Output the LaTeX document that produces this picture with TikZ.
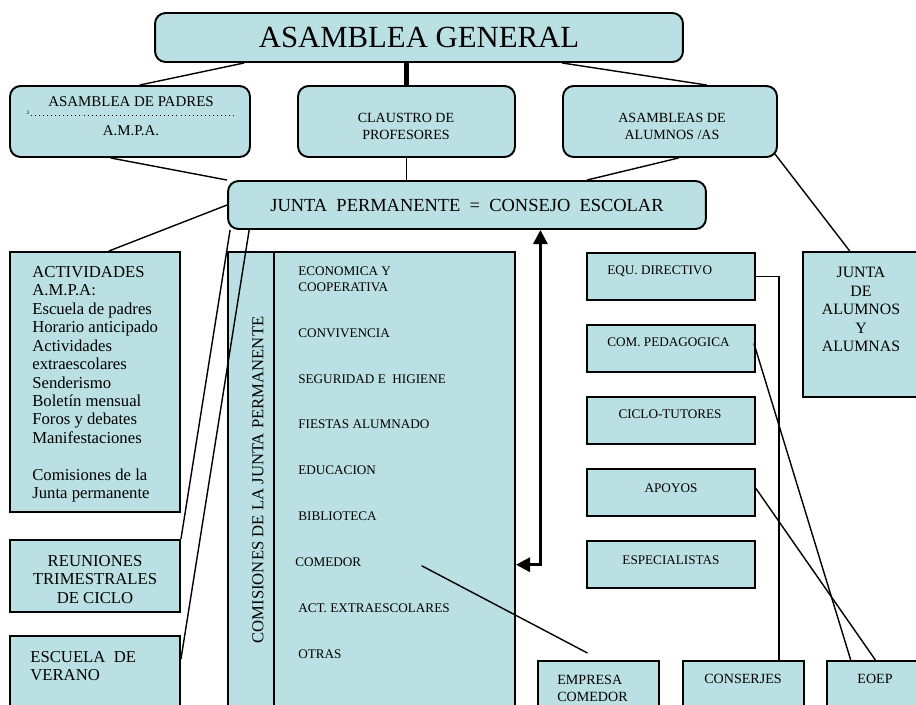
\documentclass[tikz,border=0pt]{standalone}
\usepackage{fontspec}
\setmainfont{Liberation Serif}
\usetikzlibrary{calc,arrows.meta}
\definecolor{boxblue}{RGB}{186,224,227}

\begin{document}
\begin{tikzpicture}[x=0.02cm, y=-0.02cm,
		rbox/.style={draw, line width=1.1pt, fill=boxblue, rounded corners=6pt, inner sep=0pt},
		sbox/.style={draw, line width=1.1pt, fill=boxblue, inner sep=0pt},
		txt/.style={inner sep=0pt, font=\fontsize{8}{9.6}\selectfont},
		bigtxt/.style={inner sep=0pt, font=\fontsize{9.5}{10.5}\selectfont},
		link/.style={line width=0.8pt},
		dblarrow/.style={line width=1.7pt, {Triangle[length=8pt,width=8pt]}-{Triangle[length=8pt,width=8pt]}}]
		\useasboundingbox (0,0) rectangle (916,704);
		\clip (0,0) rectangle (916,704);
		
		%top levels
		\node[rbox, minimum width=10.56cm, minimum height=0.98cm, font=\fontsize{17.5}{20}\selectfont] (gen) at (419,37.5) {ASAMBLEA GENERAL};
		\node[rbox, minimum width=4.8cm, minimum height=1.42cm] (padres) at (130,121.5) {};
		\node[rbox, minimum width=4.34cm, minimum height=1.42cm] (claustro) at (406.5,121.5) {};
		\node[rbox, minimum width=4.28cm, minimum height=1.42cm] (alumnos) at (670,121.5) {};
		\node[rbox, minimum width=9.56cm, minimum height=0.96cm, font=\fontsize{10.5}{12}\selectfont] (junta) at (467,205) {JUNTA~ PERMANENTE~ =~ CONSEJO~ ESCOLAR};
		
		\node[txt, anchor=base, font=\fontsize{8.5}{10}\selectfont] (padresT) at (131,106) {ASAMBLEA DE PADRES};
		\draw[dotted, line width=0.3pt] (31,115) -- (237,115);
		\node[inner sep=0pt, font=\fontsize{3}{3}\selectfont] (padresN) at (28,113) {3};
		\node[txt, anchor=base, font=\fontsize{8.5}{10}\selectfont] (ampaT) at (131,135) {A.M.P.A.};
		\node[txt, anchor=north, align=center] (claustroT) at (406,113) {CLAUSTRO DE\\PROFESORES};
		\node[txt, anchor=north, align=center] (alumnosT) at (672,113) {ASAMBLEAS DE\\ALUMNOS /AS};
		
		%left column
		\node[sbox, minimum width=3.4cm, minimum height=5.2cm] (activ) at (95,382) {};
		\node[bigtxt, anchor=north west, align=left] (activT) at (32,266) {ACTIVIDADES\\A.M.P.A:\\Escuela de padres\\Horario anticipado\\Actividades\\extraescolares\\Senderismo\\Boletín mensual\\Foros y debates\\Manifestaciones\\[10.5pt]Comisiones de la\\Junta permanente};
		\node[sbox, minimum width=3.4cm, minimum height=1.44cm] (reun) at (95,576) {};
		\node[bigtxt, anchor=north, align=center] (reunT) at (95,555) {REUNIONES\\TRIMESTRALES\\DE CICLO};
		\node[sbox, minimum width=3.4cm, minimum height=1.68cm] (verano) at (95,678) {};
		\node[bigtxt, anchor=north west, align=left] (veranoT) at (30,651) {ESCUELA~ DE\\VERANO};
		
		%comisiones
		\node[sbox, minimum width=5.74cm, minimum height=9.36cm] (comis) at (371.5,486) {};
		\draw[line width=1.1pt] ($(comis.north west)+(47,0)$) -- ($(comis.south west)+(47,0)$);
		\node[bigtxt, rotate=90] (comisT) at (258,480) {COMISIONES DE LA JUNTA PERMANENTE};
		\node[txt, anchor=north west, align=left, font=\fontsize{7.5}{9.2}\selectfont] (econ) at (298,266) {ECONOMICA Y\\COOPERATIVA};
		\node[txt, anchor=base west, font=\fontsize{7.5}{9}\selectfont] (conv) at (298,337) {CONVIVENCIA};
		\node[txt, anchor=base west, font=\fontsize{7.5}{9}\selectfont] (segu) at (298,383) {SEGURIDAD E~ HIGIENE};
		\node[txt, anchor=base west, font=\fontsize{7.5}{9}\selectfont] (fies) at (298,428) {FIESTAS ALUMNADO};
		\node[txt, anchor=base west, font=\fontsize{7.5}{9}\selectfont] (educ) at (298,474) {EDUCACION};
		\node[txt, anchor=base west, font=\fontsize{7.5}{9}\selectfont] (bibl) at (298,520) {BIBLIOTECA};
		\node[txt, anchor=base west, font=\fontsize{7.5}{9}\selectfont] (comedor) at (295,566) {COMEDOR};
		\node[txt, anchor=base west, font=\fontsize{7.5}{9}\selectfont] (actex) at (298,612) {ACT. EXTRAESCOLARES};
		\node[txt, anchor=base west, font=\fontsize{7.5}{9}\selectfont] (otras) at (298,658) {OTRAS};
		
		%right column
		\node[sbox, minimum width=3.36cm, minimum height=0.94cm] (equ) at (671,276.5) {};
		\node[sbox, minimum width=3.36cm, minimum height=0.94cm] (ped) at (671,348.5) {};
		\node[sbox, minimum width=3.36cm, minimum height=0.94cm] (ciclo) at (671,420.5) {};
		\node[sbox, minimum width=3.36cm, minimum height=0.94cm] (apoyos) at (671,492.5) {};
		\node[sbox, minimum width=3.36cm, minimum height=0.94cm] (espec) at (671,564.5) {};
		\node[txt, anchor=base west, font=\fontsize{7.5}{9}\selectfont] (equT) at (607,274) {EQU. DIRECTIVO};
		\node[txt, anchor=base west, font=\fontsize{7.5}{9}\selectfont] (pedT) at (607,346) {COM. PEDAGOGICA};
		\node[txt, anchor=base, font=\fontsize{7.5}{9}\selectfont] (cicloT) at (670,418) {CICLO-TUTORES};
		\node[txt, anchor=base, font=\fontsize{7.5}{9}\selectfont] (apoyosT) at (671,492) {APOYOS};
		\node[txt, anchor=base, font=\fontsize{7.5}{9}\selectfont] (especT) at (671,564) {ESPECIALISTAS};
		
		\node[sbox, minimum width=2.44cm, minimum height=2.9cm] (ja) at (864,324.5) {};
		\node[bigtxt, anchor=north, align=center, font=\fontsize{9}{10.5}\selectfont] (jaT) at (861,267) {JUNTA\\DE\\ALUMNOS\\Y\\ALUMNAS};
		
		%bottom row
		\node[sbox, minimum width=2.42cm, minimum height=1.18cm] (empresa) at (598.5,690.5) {};
		\node[sbox, minimum width=2.42cm, minimum height=1.18cm] (cons) at (743.5,690.5) {};
		\node[sbox, minimum width=1.86cm, minimum height=1.18cm] (eoep) at (873.5,690.5) {};
		\node[txt, anchor=north west, align=left] (empresaT) at (557,675) {EMPRESA\\COMEDOR};
		\node[txt, anchor=base] (consT) at (743,683) {CONSERJES};
		\node[txt, anchor=base] (eoepT) at (875,683) {EOEP};
		
		%links
		\draw[link] ($(gen.south west)!0.17!(gen.south east)$) -- ($(padres.north west)!0.54!(padres.north east)$);
		\draw[line width=2.8pt] (claustro.north) -- (claustro.north |- gen.south);
		\draw[link] ($(gen.south west)!0.77!(gen.south east)$) -- ($(alumnos.north west)!0.67!(alumnos.north east)$);
		\draw[link] ($(padres.south west)!0.42!(padres.south east)$) -- (junta.north west);
		\draw[link] (claustro.south) -- (claustro.south |- junta.north);
		\draw[link] ($(alumnos.south west)!0.54!(alumnos.south east)$) -- ($(junta.north west)!0.75!(junta.north east)$);
		\draw[link] ($(alumnos.south east)+(-3,-4)$) -- ($(ja.north west)!0.385!(ja.north east)$);
		\draw[link] (junta.west) -- ($(activ.north west)!0.58!(activ.north east)$);
		\draw[link] ($(junta.south west)+(3,0)$) -- (reun.north east);
		\draw[link] ($(junta.south west)!0.046!(junta.south east)$) -- ($(verano.north east)+(0,24)$);
		\draw[dblarrow] ($(comis.east |- comedor)+(0,3)$) -| ($(junta.south west)!0.653!(junta.south east)$);
		\draw[link] ($(comedor.east)+(60,4)$) -- ($(empresa.north)+(-11,-7)$);
		\draw[link] (equ.east) -| ($(cons.north west)!0.79!(cons.north east)$);
		\draw[link] ($(ped.east)+(-2,-5)$) -- ($(eoep.north west)!0.26!(eoep.north east)$);
		\draw[link] ($(apoyos.east)+(0,-4)$) -- ($(eoep.north west)!0.52!(eoep.north east)$);
	\end{tikzpicture}
\end{document}
